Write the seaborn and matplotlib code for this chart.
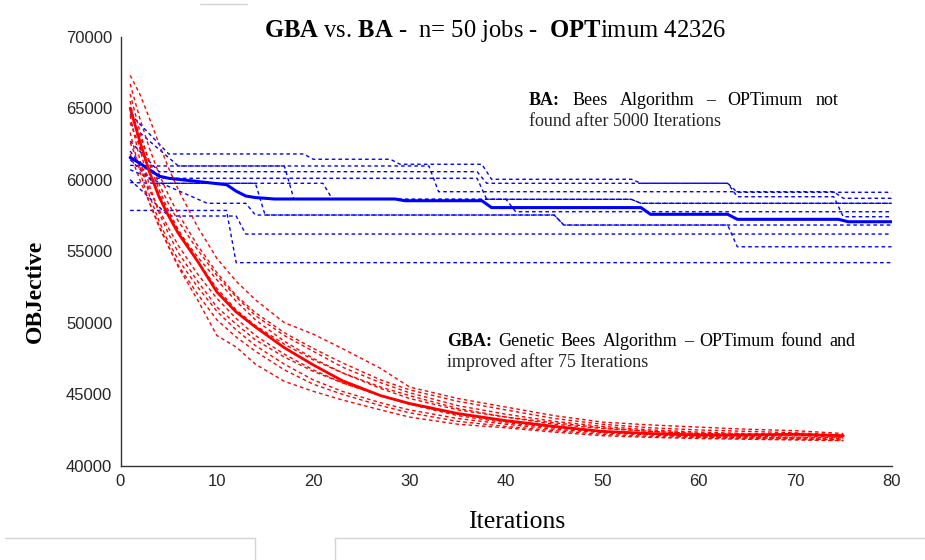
import numpy as np
import pandas as pd
import matplotlib
matplotlib.use("Agg")
import matplotlib.pyplot as plt
import seaborn as sns
from matplotlib.lines import Line2D

# ---------------- data ----------------
gba_iter = [1, 2, 3, 4, 5, 6, 8, 10, 12, 14, 17, 20, 23, 27, 30, 35, 40, 45, 50, 55, 60, 65, 70, 75]
gba_mean = [65000, 62700, 60550, 58800, 57450, 56250, 54300, 52150, 50750, 49700, 48250, 47050,
            45950, 44900, 44350, 43650, 43150, 42750, 42400, 42250, 42150, 42150, 42200, 42100]
gba_run1 = [67300, 66000, 64300, 62500, 60800, 59300, 56700, 54500, 52900, 51600, 50000, 49200,
            48200, 46800, 45500, 44700, 44100, 43500, 43050, 42850, 42700, 42550, 42450, 42250]
gba_run2 = [66700, 64300, 62200, 60400, 58900, 57600, 55400, 53500, 51900, 50700, 49300, 48200,
            47200, 46000, 45300, 44500, 43900, 43300, 42900, 42650, 42500, 42400, 42300, 42150]
gba_run3 = [66000, 63400, 61100, 59300, 57800, 56500, 54300, 52400, 50900, 49800, 48500, 47400,
            46500, 45500, 44900, 44000, 43400, 42900, 42600, 42400, 42250, 42150, 42100, 42000]
gba_run4 = [65500, 62200, 59600, 57700, 56200, 54900, 52900, 51100, 49900, 48800, 47600, 46600,
            45800, 44900, 44300, 43600, 43100, 42700, 42400, 42200, 42050, 42000, 41950, 41900]
gba_run5 = [65000, 63100, 61300, 59700, 58300, 57100, 55100, 53300, 51800, 50500, 49100, 48000,
            46900, 45800, 45100, 44200, 43600, 43100, 42750, 42500, 42350, 42250, 42200, 42100]
gba_run6 = [64500, 61400, 58900, 57100, 55600, 54400, 52500, 50800, 49500, 48400, 47100, 46000,
            45200, 44400, 43900, 43300, 42900, 42550, 42300, 42150, 42000, 41950, 41900, 41800]
gba_run7 = [64000, 62300, 60600, 59000, 57600, 56400, 54600, 53000, 51500, 50200, 48700, 47500,
            46500, 45400, 44700, 43900, 43400, 43000, 42650, 42400, 42250, 42200, 42150, 42050]
gba_run8 = [63300, 60600, 58400, 56700, 55300, 54000, 52000, 50200, 49000, 48000, 46700, 45700,
            45000, 44200, 43700, 43100, 42750, 42450, 42200, 42050, 41950, 41900, 41850, 41780]
gba_run9 = [62600, 60900, 59300, 57900, 56600, 55400, 53400, 51700, 50300, 49100, 47800, 46700,
            45800, 44900, 44300, 43500, 43000, 42650, 42350, 42200, 42100, 42050, 42000, 41950]
gba_run10 = [61800, 60000, 58400, 56800, 55300, 53900, 51600, 49100, 48300, 47100, 45900, 45200,
             44600, 43900, 43400, 42900, 42650, 42350, 42100, 41980, 41900, 41850, 41800, 41750]
gba_runs = [gba_run1, gba_run2, gba_run3, gba_run4, gba_run5,
            gba_run6, gba_run7, gba_run8, gba_run9, gba_run10]

ba_mean_iter = [1, 2, 3, 4, 5, 7, 11, 12, 13, 14, 16, 28.5, 29.5, 37.5, 38.5, 54, 55, 63, 64, 74.5, 75.5, 80]
ba_mean = [61550, 61150, 60700, 60250, 60100, 59950, 59650, 59200, 58860, 58750, 58650, 58650,
           58530, 58530, 58050, 58050, 57580, 57580, 57230, 57230, 57060, 57060]

ba_run1_iter = [1, 2, 5, 19, 20, 28, 29, 37.5, 38.5, 53, 54, 63, 64, 80]
ba_run1 = [64600, 63900, 61800, 61800, 61430, 61430, 61080, 61080, 60030, 60030, 59750, 59750, 59120, 59120]
ba_run2_iter = [1, 3, 6, 32, 33, 74, 75, 80]
ba_run2 = [63900, 62700, 60960, 60960, 59160, 59160, 58700, 58700]
ba_run3_iter = [1, 4, 37, 38, 63, 64, 74, 75, 80]
ba_run3 = [62700, 60560, 60560, 59750, 59750, 58810, 58810, 57410, 57410]
ba_run4_iter = [1, 3, 37, 38, 53, 54, 80]
ba_run4 = [62000, 60100, 60100, 58630, 58630, 58350, 58350]
ba_run5_iter = [1, 3.5, 21, 22, 40, 41, 80]
ba_run5 = [61400, 59750, 59750, 58630, 58630, 57760, 57760]
ba_run6_iter = [1, 9, 13, 14, 45, 46, 80]
ba_run6 = [60700, 58350, 58350, 57530, 57530, 56830, 56830]
ba_run7_iter = [1, 11, 12, 80]
ba_run7 = [57850, 57850, 54200, 54200]
ba_run8_iter = [1, 5, 12, 13, 80]
ba_run8 = [60000, 57460, 57460, 56200, 56200]
ba_run9_iter = [1, 4, 14, 15, 45, 46, 63, 64, 80]
ba_run9 = [59800, 59750, 59750, 57530, 57530, 56830, 56830, 55310, 55310]
ba_run10_iter = [1, 3, 17, 18, 53, 54, 80]
ba_run10 = [61000, 60960, 60960, 58630, 58630, 58350, 58350]
ba_runs = [(ba_run1_iter, ba_run1), (ba_run2_iter, ba_run2), (ba_run3_iter, ba_run3),
           (ba_run4_iter, ba_run4), (ba_run5_iter, ba_run5), (ba_run6_iter, ba_run6),
           (ba_run7_iter, ba_run7), (ba_run8_iter, ba_run8), (ba_run9_iter, ba_run9),
           (ba_run10_iter, ba_run10)]

x_ticks = [0, 10, 20, 30, 40, 50, 60, 70, 80]
y_ticks = [40000, 45000, 50000, 55000, 60000, 65000, 70000]

# ---------------- style ----------------
sns.set_style("white")
plt.rcParams['font.family'] = ['Liberation Serif', 'DejaVu Serif']
plt.rcParams['mathtext.fontset'] = 'custom'
plt.rcParams['mathtext.rm'] = 'Liberation Serif'
plt.rcParams['mathtext.bf'] = 'Liberation Serif:bold'

W, H = 925, 560
fig = plt.figure(figsize=(W / 100, H / 100), dpi=100)
fig.patch.set_facecolor('white')
ax = fig.add_axes([120.5 / W, 1 - 465.7 / H, 771 / W, 429 / H])
ax.set_facecolor('white')

BLUE = '#0000ff'
RED = '#ff0000'
dash = (0, (2.6, 2.2))

for xs, vs in ba_runs:
    sns.lineplot(x=xs, y=vs, ax=ax, color=BLUE, linewidth=1.0, linestyle=dash,
                 estimator=None, sort=False, legend=False)
for run in gba_runs:
    sns.lineplot(x=gba_iter, y=run, ax=ax, color=RED, linewidth=1.0, linestyle=dash,
                 estimator=None, sort=False, legend=False)
sns.lineplot(x=ba_mean_iter, y=ba_mean, ax=ax, color=BLUE, linewidth=2.2,
             estimator=None, sort=False, legend=False)
sns.lineplot(x=gba_iter, y=gba_mean, ax=ax, color=RED, linewidth=2.0,
             estimator=None, sort=False, legend=False)

ax.set_xlim(0, 80)
ax.set_ylim(40000, 70000)
ax.set_xticks(x_ticks)
ax.set_yticks(y_ticks)
ax.set_xticklabels([str(t) for t in x_ticks], fontfamily='Liberation Sans')
ax.set_yticklabels([str(t) for t in y_ticks], fontfamily='Liberation Sans')
ax.tick_params(direction='in', length=6, width=1, color='#333333',
               labelcolor='#262626', labelsize=12)
ax.tick_params(axis='y', pad=6)
ax.tick_params(axis='x', pad=6)
for s in ['top', 'right']:
    ax.spines[s].set_visible(False)
for s in ['left', 'bottom']:
    ax.spines[s].set_color('#333333')
    ax.spines[s].set_linewidth(1.0)
ax.set_xlabel('')
ax.set_ylabel('')


def fx(x):
    return x / W


def fy(y):
    return 1 - y / H


# title
fig.text(fx(495), fy(31), r"$\mathbf{GBA}$ vs. $\mathbf{BA}$ -  n= 50 jobs -  $\mathbf{OPT}$imum 42326",
         ha='center', va='center', fontsize=17.7, color='black')

# axis labels
fig.text(fx(517), fy(522), 'Iterations', ha='center', va='center', fontsize=18.5, color='black')
fig.text(fx(35), fy(291), 'OBJective', ha='center', va='center', fontsize=17,
         fontweight='bold', rotation=90, color='black')


def justified(words, bolds, x0, x1, ybase, size):
    texts = [fig.text(0, 0, w, fontsize=size, fontweight='bold' if b else 'normal',
                      va='baseline', ha='left', color='black') for w, b in zip(words, bolds)]
    fig.canvas.draw()
    r = fig.canvas.get_renderer()
    widths = [t.get_window_extent(r).width for t in texts]
    gap = (x1 - x0 - sum(widths)) / (len(words) - 1)
    x = x0
    for t, w in zip(texts, widths):
        t.set_position((fx(x), fy(ybase)))
        x += w + gap


justified(['BA:', 'Bees', 'Algorithm', '–', 'OPTimum', 'not'],
          [True, False, False, False, False, False], 529, 838, 105, 13)
fig.text(fx(529), fy(125.5), 'found after 5000 Iterations', fontsize=13, va='baseline', ha='left')

justified(['GBA:', 'Genetic', 'Bees', 'Algorithm', '–', 'OPTimum', 'found', 'and'],
          [True, False, False, False, False, False, False, False], 447, 855, 346, 13)
fig.text(fx(447), fy(367), 'improved after 75 Iterations', fontsize=13, va='baseline', ha='left')

# light gray page decoration lines
gray = '#d4d4d4'
for xs, ys in [([5, 255], [538, 538]), ([255, 255], [538, 560]),
               ([335, 335], [538, 560]), ([335, 925], [538, 538]),
               ([200, 247], [4, 4])]:
    fig.add_artist(Line2D([fx(v) for v in xs], [fy(v) for v in ys], color=gray, linewidth=1.0))

fig.savefig('out.png', dpi=100)
